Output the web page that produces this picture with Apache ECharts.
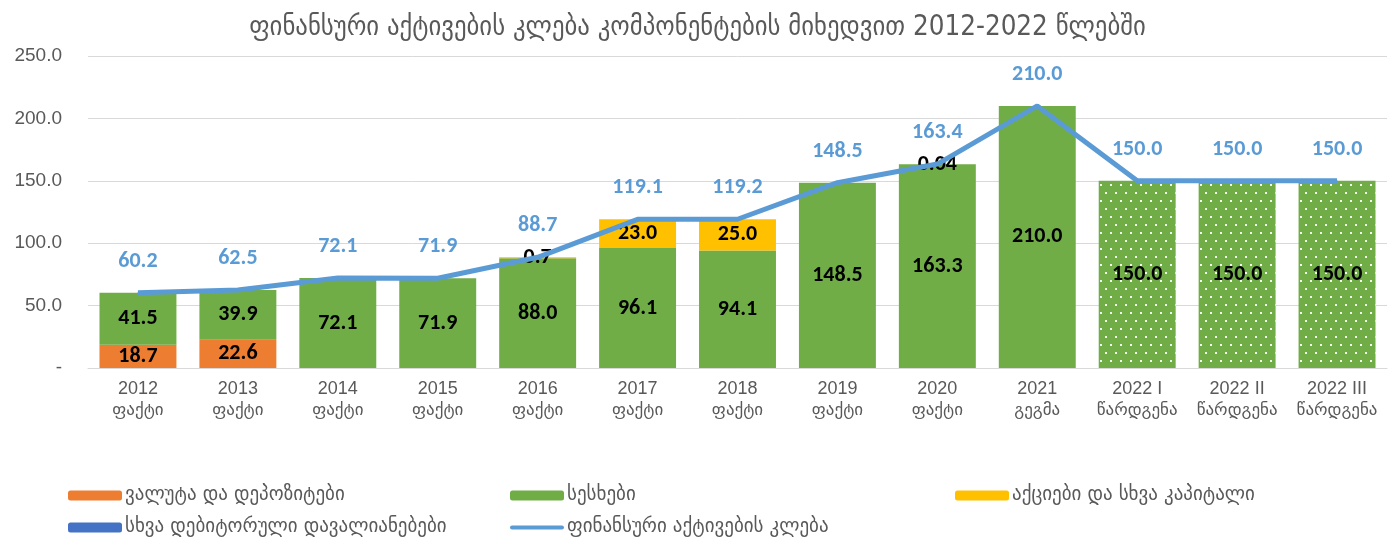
<!DOCTYPE html>
<html>
<head>
  <meta charset="utf-8">
  <title>ECharts</title>
  <script src="https://cdn.jsdelivr.net/npm/echarts@6/dist/echarts.min.js"></script>
</head>
<style>
  * { padding: 0; margin: 0; }
  #main { width: 1395px; height: 540px; overflow: hidden; position: absolute; background: #fff; }
</style>
<body>
  <div id="main"></div>
  <script type="text/javascript">
    // categories and values
    var categories = ['2012\nფაქტი', '2013\nფაქტი', '2014\nფაქტი', '2015\nფაქტი', '2016\nფაქტი',
      '2017\nფაქტი', '2018\nფაქტი', '2019\nფაქტი', '2020\nფაქტი', '2021\nგეგმა',
      '2022 I\nწარდგენა', '2022 II\nწარდგენა', '2022 III\nწარდგენა'];
    var currency = [18.7, 22.6, null, null, null, null, null, null, null, null, null, null, null];
    var cash = [41.5, 39.9, 72.1, 71.9, 88.0, 96.1, 94.1, 148.5, 163.3, 210.0, 150.0, 150.0, 150.0];
    var equity = [null, null, null, null, 0.7, 23.0, 25.0, null, null, null, null, null, null];
    var debtors = [null, null, null, null, null, null, null, null, 0.04, null, null, null, null];
    var total = [60.2, 62.5, 72.1, 71.9, 88.7, 119.1, 119.2, 148.5, 163.4, 210.0, 150.0, 150.0, 150.0];
    var projectedFrom = 10; // index where the dotted bars start

    var names = ['ვალუტა და დეპოზიტები', 'სესხები', 'აქციები და სხვა კაპიტალი',
      'სხვა დებიტორული დავალიანებები', 'ფინანსური აქტივების კლება'];

    var numFont = 'Carlito, Calibri, Lato, sans-serif';
    var gray = '#595959';

    function fmt(p) {
      var v = p.value;
      if (v == null) return '';
      return v < 0.1 ? String(v) : v.toFixed(1);
    }
    var barLabel = { show: true, position: 'inside', color: '#000', fontWeight: 'bold', fontSize: 22, fontFamily: numFont, formatter: fmt };

    var dots = {
      symbol: 'rect', symbolSize: 1, color: 'rgba(255,255,255,0.9)',
      dashArrayX: [[2, 8], [0, 5, 2, 3]], dashArrayY: [2, 6]
    };
    var cashData = cash.map(function (v, i) {
      return i >= projectedFrom ? { value: v, itemStyle: { decal: dots } } : v;
    });

    function legendAt(name, left, top, icon) {
      var l = {
        data: [name], left: left, top: top, padding: 0, itemWidth: 54, itemHeight: 10, itemGap: 0,
        textStyle: { color: gray, fontSize: 19, fontFamily: 'DejaVu Sans', padding: [0, 0, 0, -2] },
        selectedMode: false
      };
      if (icon) l.icon = icon;
      return l;
    }

    var option = {
      animation: false,
      title: {
        text: 'ფინანსური აქტივების კლება კომპონენტების მიხედვით 2012-2022 წლებში',
        left: 'center', top: 9,
        textStyle: { color: gray, fontSize: 27.5, fontWeight: 'normal', fontFamily: 'DejaVu Sans Condensed, DejaVu Sans' }
      },
      legend: [
        legendAt(names[0], 68, 486),
        legendAt(names[1], 510, 486),
        legendAt(names[2], 955, 486),
        legendAt(names[3], 68, 518),
        legendAt(names[4], 510, 518, 'path://M2,3 L52,3 A2,2 0 0 1 52,7 L2,7 A2,2 0 0 1 2,3 Z')
      ],
      grid: { left: 88, right: 8, top: 56, bottom: 172 },
      xAxis: {
        type: 'category', data: categories,
        axisLine: { lineStyle: { color: '#d9d9d9', width: 1 } },
        axisTick: { show: false },
        axisLabel: {
          color: gray, interval: 0, margin: 10,
          formatter: function (v) {
            var parts = v.split('\n');
            return '{y|' + parts[0] + '}\n{g|' + parts[1] + '}';
          },
          rich: {
            y: { color: gray, fontSize: 18, fontFamily: 'Liberation Sans', lineHeight: 22 },
            g: { color: gray, fontSize: 17, fontFamily: 'DejaVu Sans', lineHeight: 22 }
          }
        }
      },
      yAxis: {
        type: 'value', min: 0, max: 250, interval: 50,
        axisLine: { show: false }, axisTick: { show: false },
        splitLine: { lineStyle: { color: '#d9d9d9' } },
        axisLabel: {
          color: gray, fontSize: 19, fontFamily: 'Liberation Sans', margin: 26,
          formatter: function (v) { return v === 0 ? '-' : v.toFixed(1); }
        }
      },
      series: [
        { name: names[0], type: 'bar', stack: 'a', data: currency, barWidth: '77%', itemStyle: { color: '#ed7d31' }, label: barLabel },
        { name: names[1], type: 'bar', stack: 'a', data: cashData, itemStyle: { color: '#70ad47' }, label: barLabel },
        { name: names[2], type: 'bar', stack: 'a', data: equity, itemStyle: { color: '#ffc000' }, label: barLabel },
        { name: names[3], type: 'bar', stack: 'a', data: debtors, itemStyle: { color: '#4472c4' }, label: barLabel },
        {
          name: names[4], type: 'line', data: total, symbol: 'circle', symbolSize: 1, showSymbol: true, z: 5,
          lineStyle: { color: '#5b9bd5', width: 5 }, itemStyle: { color: '#5b9bd5' },
          label: {
            show: true, position: 'top', distance: 20, color: '#5b9bd5', fontWeight: 'bold', fontSize: 22,
            fontFamily: numFont,
            formatter: function (p) { return p.value.toFixed(1); }
          }
        }
      ]
    };

    var myChart = echarts.init(document.getElementById('main'));
    myChart.setOption(option);
  </script>
</body>
</html>
